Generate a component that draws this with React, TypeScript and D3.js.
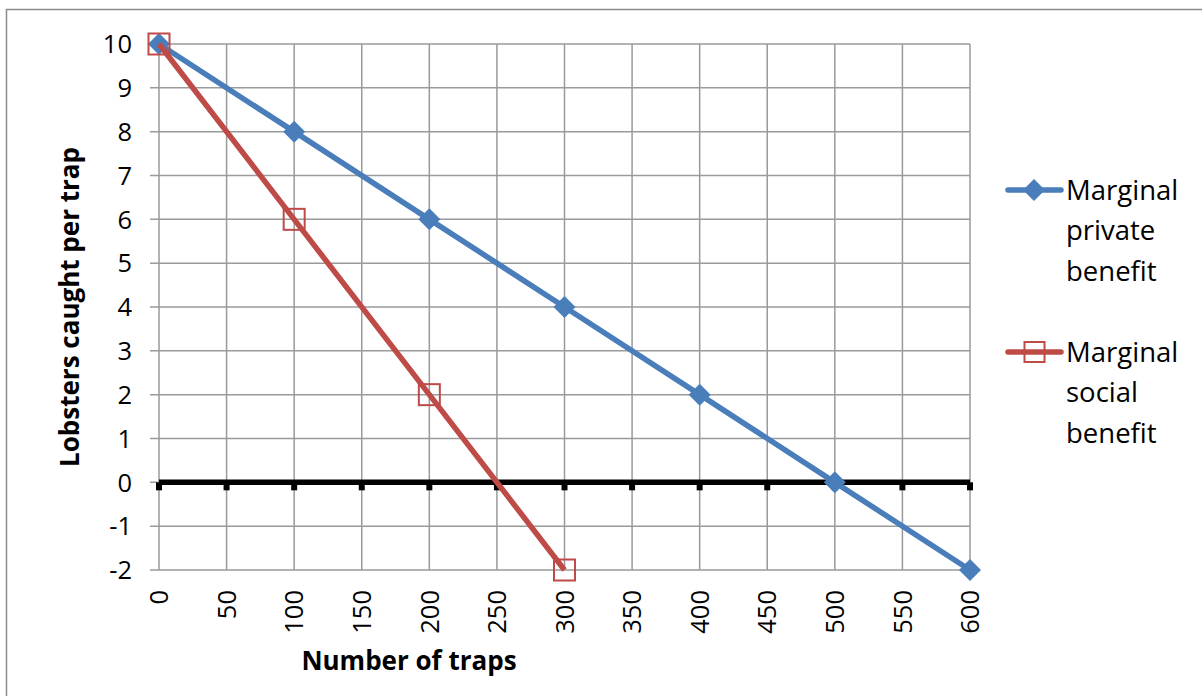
import React from "react";
import * as d3 from "d3";

const traps = [0, 100, 200, 300, 400, 500, 600];
const privateBenefit = [10, 8, 6, 4, 2, 0, -2];
const socialTraps = [0, 100, 200, 300];
const socialBenefit = [10, 6, 2, -2];
const xTicks = [0, 50, 100, 150, 200, 250, 300, 350, 400, 450, 500, 550, 600];
const yTicks = [-2, -1, 0, 1, 2, 3, 4, 5, 6, 7, 8, 9, 10];
const seriesNames = ["Marginal private benefit", "Marginal social benefit"];

const W = 1202;
const H = 696;
const FONT = "'Open Sans', 'Noto Sans', sans-serif";
const BLUE = "#4a7ebb";
const RED = "#be4b48";
const GRID = "#9a9a9a";

export default function App() {
  const x = d3.scaleLinear().domain([0, 600]).range([159, 970]);
  const y = d3.scaleLinear().domain([-2, 10]).range([570, 44]);
  const line = d3
    .line<[number, number]>()
    .x((d) => x(d[0]))
    .y((d) => y(d[1]));
  const pData: [number, number][] = traps.map((t, i) => [t, privateBenefit[i]]);
  const sData: [number, number][] = socialTraps.map((t, i) => [t, socialBenefit[i]]);
  const diamond = (cx: number, cy: number, r: number) =>
    `M${cx},${cy - r}L${cx + r},${cy}L${cx},${cy + r}L${cx - r},${cy}Z`;

  const legendItems = [
    { name: seriesNames[0], color: BLUE, y: 190, marker: "diamond" },
    { name: seriesNames[1], color: RED, y: 352, marker: "square" },
  ];

  return (
    <svg
      width={W}
      height={H}
      style={{ position: "absolute", left: 0, top: 0, background: "#fff" }}
      fontFamily={FONT}
    >
      <rect x={6.5} y={9.5} width={W} height={H} fill="#fff" stroke="#8c8c8c" strokeWidth={1.5} />
      {/* gridlines */}
      {yTicks.map((t) => (
        <line key={"h" + t} x1={150} x2={x(600)} y1={y(t)} y2={y(t)} stroke={GRID} strokeWidth={1.5} />
      ))}
      {xTicks.map((t) => (
        <line key={"v" + t} x1={x(t)} x2={x(t)} y1={y(10)} y2={y(-2)} stroke={GRID} strokeWidth={1.5} />
      ))}
      {/* zero axis */}
      <line x1={x(0)} x2={x(600)} y1={y(0)} y2={y(0)} stroke="#000" strokeWidth={5.5} />
      {xTicks.map((t) => (
        <rect key={"tk" + t} x={x(t) - 3} y={y(0)} width={6} height={8} fill="#000" />
      ))}
      {/* y tick labels */}
      {yTicks.map((t) => (
        <text key={"yl" + t} x={132} y={y(t)} dy="0.36em" textAnchor="end" fontSize={25.5} fill="#000">
          {t}
        </text>
      ))}
      {/* x tick labels */}
      {xTicks.map((t) => (
        <text
          key={"xl" + t}
          transform={`translate(${x(t)},${590}) rotate(-90)`}
          textAnchor="end"
          dy="0.36em"
          fontSize={25.5}
          fill="#000"
        >
          {t}
        </text>
      ))}
      {/* axis titles */}
      <text x={409} y={670} textAnchor="middle" fontSize={26} fontWeight="bold" fill="#000">
        Number of traps
      </text>
      <text
        transform={`translate(79,${307}) rotate(-90)`}
        textAnchor="middle"
        fontSize={26}
        fontWeight="bold"
        fill="#000"
      >
        Lobsters caught per trap
      </text>
      {/* series */}
      <path d={line(pData) || ""} fill="none" stroke={BLUE} strokeWidth={5.5} strokeLinejoin="round" />
      {pData.map((d, i) => (
        <path key={"pd" + i} d={diamond(x(d[0]), y(d[1]), 11)} fill={BLUE} />
      ))}
      <path d={line(sData) || ""} fill="none" stroke={RED} strokeWidth={5.5} strokeLinejoin="round" />
      {sData.map((d, i) => (
        <rect
          key={"sd" + i}
          x={x(d[0]) - 10.5}
          y={y(d[1]) - 10.5}
          width={21}
          height={21}
          fill="none"
          stroke={RED}
          strokeWidth={2}
        />
      ))}
      {/* legend */}
      {legendItems.map((it) => (
        <g key={it.name}>
          <line x1={1008} x2={1061} y1={it.y} y2={it.y} stroke={it.color} strokeWidth={5.5} strokeLinecap="round" />
          {it.marker === "diamond" ? (
            <path d={diamond(1034, it.y, 11)} fill={it.color} />
          ) : (
            <rect x={1024.5} y={it.y - 10} width={20} height={20} fill="none" stroke={it.color} strokeWidth={2} />
          )}
          {it.name.split(" ").map((w, j) => (
            <text key={w} x={1066} y={it.y + 9.5 + j * 40.5} fontSize={27.5} fill="#000">
              {w}
            </text>
          ))}
        </g>
      ))}
    </svg>
  );
}
